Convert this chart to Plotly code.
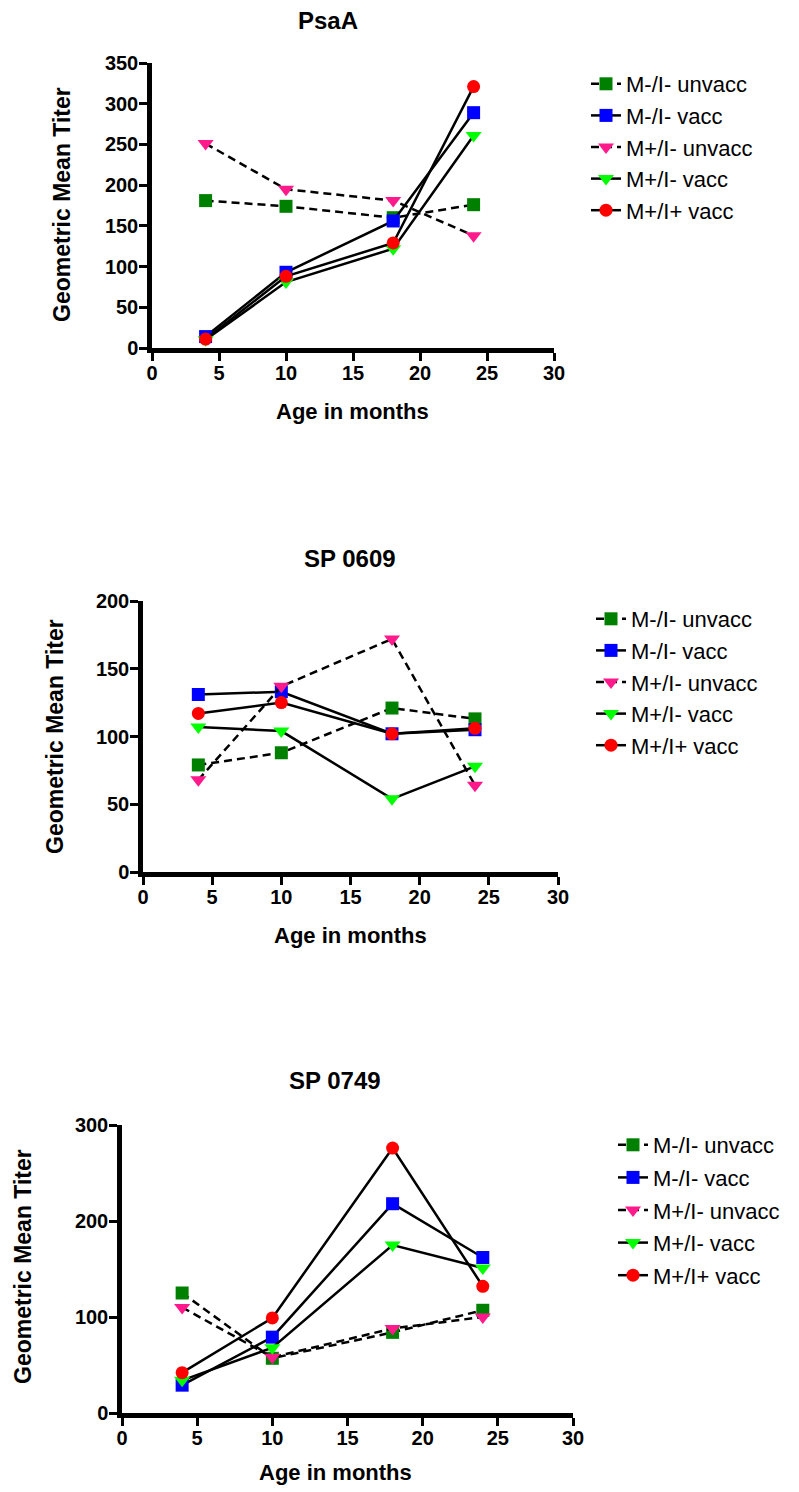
import plotly.graph_objects as go

ages = [4, 10, 18, 24]
series_names = ["M-/I- unvacc", "M-/I- vacc", "M+/I- unvacc", "M+/I- vacc", "M+/I+ vacc"]

psaa_m_i_unvacc = [181, 174, 160, 176]
psaa_m_i_vacc = [14, 93, 156, 289]
psaa_mp_i_unvacc = [251, 195, 181, 138]
psaa_mp_i_vacc = [10, 81, 122, 261]
psaa_mp_ip_vacc = [11, 88, 129, 321]

sp0609_m_i_unvacc = [79, 88, 121, 113]
sp0609_m_i_vacc = [131, 133, 102, 105]
sp0609_mp_i_unvacc = [68, 137, 172, 64]
sp0609_mp_i_vacc = [107, 104, 54, 78]
sp0609_mp_ip_vacc = [117, 125, 102, 106]

sp0749_m_i_unvacc = [125, 57, 84, 107]
sp0749_m_i_vacc = [29, 79, 218, 162]
sp0749_mp_i_unvacc = [110, 58, 88, 100]
sp0749_mp_i_vacc = [34, 68, 175, 151]
sp0749_mp_ip_vacc = [42, 99, 276, 132]

panel_titles = ["PsaA", "SP 0609", "SP 0749"]
x_ticks = [0, 5, 10, 15, 20, 25, 30]
y_ticks = [[0, 50, 100, 150, 200, 250, 300, 350], [0, 50, 100, 150, 200], [0, 100, 200, 300]]
y_ranges = [350, 200, 300]

panels = [
    [psaa_m_i_unvacc, psaa_m_i_vacc, psaa_mp_i_unvacc, psaa_mp_i_vacc, psaa_mp_ip_vacc],
    [sp0609_m_i_unvacc, sp0609_m_i_vacc, sp0609_mp_i_unvacc, sp0609_mp_i_vacc, sp0609_mp_ip_vacc],
    [sp0749_m_i_unvacc, sp0749_m_i_vacc, sp0749_mp_i_unvacc, sp0749_mp_i_vacc, sp0749_mp_ip_vacc],
]

W, H = 799, 1492
colors = ["#008000", "#0000FF", "#FF1A8C", "#00FF00", "#FF0000"]
symbols = ["square", "square", "triangle-down", "triangle-down", "circle"]
dashes = ["8px,5px", "solid", "8px,5px", "solid", "solid"]
msizes = [13, 13, 14, 14, 13]

# pixel layout boxes: (x0, x1, ytop, ybottom)
boxes = [(152, 554, 63, 348), (143, 558, 601, 872), (122, 573, 1125, 1413)]
title_pos = [(328, 20), (350, 558), (335, 1080)]
ytitle_pos = [(62, 205), (55, 737), (23, 1267)]
xtitle_pos = [(352, 412), (350, 935), (335, 1472)]
legend_pos = [(586, 63), (591, 598), (613, 1124)]
legend_gaps = [0, -1, 1]

FONT = "Liberation Sans, Arial, sans-serif"

fig = go.Figure()
annotations = []
for p in range(3):
    xa = "x" if p == 0 else f"x{p+1}"
    ya = "y" if p == 0 else f"y{p+1}"
    lg = "legend" if p == 0 else f"legend{p+1}"
    for s in range(5):
        fig.add_trace(go.Scatter(
            x=ages, y=panels[p][s], name=series_names[s],
            mode="lines+markers", xaxis=xa, yaxis=ya, legend=lg,
            legendgroup=f"p{p}s{s}",
            line=dict(color="black", width=2.5, dash=dashes[s]),
            marker=dict(color=colors[s], symbol=symbols[s], size=msizes[s], line=dict(width=0)),
            cliponaxis=False,
        ))
    x0, x1, yt, yb = boxes[p]
    axx = dict(domain=[x0 / W, x1 / W], range=[0, 30], tickvals=x_ticks, automargin=False,
               showline=True, linewidth=4.5, linecolor="black", ticks="outside",
               ticklen=8, tickwidth=3, tickcolor="black", showgrid=False, zeroline=False,
               ticklabelstandoff=-5,
               anchor=ya, tickfont=dict(family=FONT, size=20, color="black", weight="bold"))
    axy = dict(domain=[1 - yb / H, 1 - yt / H], range=[0, y_ranges[p]], tickvals=y_ticks[p], automargin=False,
               showline=True, linewidth=4.5, linecolor="black", ticks="outside",
               ticklen=8, tickwidth=3, tickcolor="black", showgrid=False, zeroline=False,
               ticklabelstandoff=-3,
               anchor=xa, tickfont=dict(family=FONT, size=20, color="black", weight="bold"))
    if p == 0:
        fig.update_layout(xaxis=axx, yaxis=axy)
    else:
        fig.update_layout(**{f"xaxis{p+1}": axx, f"yaxis{p+1}": axy})
    lx, ly = legend_pos[p]
    fig.update_layout(**{lg: dict(x=lx / W, y=1 - ly / H, xanchor="left", yanchor="top",
                                  font=dict(family=FONT, size=22, color="black"),
                                  tracegroupgap=max(legend_gaps[p], 0), bgcolor="rgba(0,0,0,0)")})
    tx, ty = title_pos[p]
    annotations.append(dict(text=panel_titles[p], x=tx / W, y=1 - ty / H, xref="paper", yref="paper",
                            showarrow=False, xanchor="center", yanchor="middle",
                            font=dict(family=FONT, size=24, color="black", weight="bold")))
    yx, yy = ytitle_pos[p]
    annotations.append(dict(text="Geometric Mean Titer", x=yx / W, y=1 - yy / H, xref="paper", yref="paper",
                            showarrow=False, xanchor="center", yanchor="middle", textangle=-90,
                            font=dict(family=FONT, size=23, color="black", weight="bold")))
    xx, xy = xtitle_pos[p]
    annotations.append(dict(text="Age in months", x=xx / W, y=1 - xy / H, xref="paper", yref="paper",
                            showarrow=False, xanchor="center", yanchor="middle",
                            font=dict(family=FONT, size=22, color="black", weight="bold")))

fig.update_layout(width=W, height=H, margin=dict(l=0, r=0, t=0, b=0, pad=0, autoexpand=False),
                  paper_bgcolor="white", plot_bgcolor="white", showlegend=True,
                  annotations=annotations)
fig.write_html("out.html", post_script="document.body.style.margin='0';document.body.style.padding='0';")
